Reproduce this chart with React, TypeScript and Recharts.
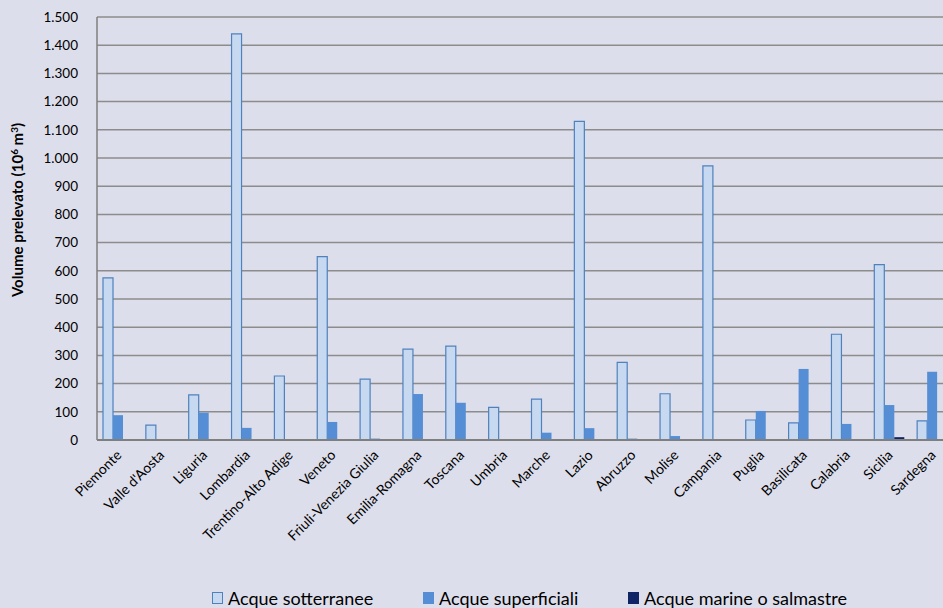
import React from 'react';
import { BarChart, Bar, XAxis, YAxis, CartesianGrid } from 'recharts';

const regions = [
  'Piemonte', "Valle d'Aosta", 'Liguria', 'Lombardia', 'Trentino-Alto Adige',
  'Veneto', 'Friuli-Venezia Giulia', 'Emilia-Romagna', 'Toscana', 'Umbria',
  'Marche', 'Lazio', 'Abruzzo', 'Molise', 'Campania',
  'Puglia', 'Basilicata', 'Calabria', 'Sicilia', 'Sardegna',
];
const sotterranee = [575, 53, 160, 1440, 227, 650, 216, 322, 333, 116, 145, 1130, 275, 164, 972, 71, 61, 375, 622, 68];
const superficiali = [88, 0, 97, 43, 2, 64, 5, 163, 132, 0, 26, 42, 5, 14, 2, 103, 252, 57, 124, 242];
const marine = [0, 0, 0, 0, 0, 0, 0, 0, 1, 0, 0, 0, 0, 0, 0, 0, 0, 0, 10, 0];
const yTicks = [0, 100, 200, 300, 400, 500, 600, 700, 800, 900, 1000, 1100, 1200, 1300, 1400, 1500];

const data = regions.map((name, i) => ({
  name,
  sott: sotterranee[i],
  sup: superficiali[i],
  mar: marine[i],
}));

const FONT = 'Lato, "Open Sans", sans-serif';
const C_SOTT = '#C6D9F1';
const C_SOTT_LINE = '#4F81BD';
const C_SUP = '#558ED5';
const C_MAR = '#0F2464';

const fmt = (v: number) => String(v).replace(/\B(?=(\d{3})+(?!\d))/g, '.');

const XTick = (props: any) => {
  const { x, y, payload } = props;
  return (
    <text
      x={x + 4}
      y={y + 8}
      transform={`rotate(-45, ${x + 4}, ${y + 8})`}
      textAnchor="end"
      fontSize={14}
      fontFamily={FONT}
      fill="#000"
    >
      {payload.value}
    </text>
  );
};

// rotated y-axis title with real superscripts
const YTitle = () => (
  <text
    transform="translate(23, 210) rotate(-90)"
    textAnchor="middle"
    fontSize={15}
    fontWeight="bold"
    fontFamily={FONT}
    fill="#000"
  >
    Volume prelevato (10
    <tspan dy={-5} fontSize={10}>6</tspan>
    <tspan dy={5}> m</tspan>
    <tspan dy={-5} fontSize={10}>3</tspan>
    <tspan dy={5}>)</tspan>
  </text>
);

const legendItems = [
  { label: 'Acque sotterranee', fill: C_SOTT, stroke: C_SOTT_LINE, left: 212 },
  { label: 'Acque superficiali', fill: C_SUP, stroke: C_SUP, left: 423 },
  { label: 'Acque marine o salmastre', fill: C_MAR, stroke: C_MAR, left: 628 },
];

export default function App() {
  return (
    <div style={{ position: 'absolute', left: 0, top: 0, width: 943, height: 608, background: '#DDDEEB', overflow: 'hidden' }}>
      <BarChart
        width={954}
        height={608}
        data={data}
        margin={{ top: 17, right: 0, left: 0, bottom: 0 }}
        barGap={0}
        barSize={10}
      >
        <CartesianGrid vertical={false} stroke="#8C8C8C" strokeWidth={1.5} />
        <XAxis
          dataKey="name"
          interval={0}
          height={168}
          tickLine={false}
          axisLine={{ stroke: '#7F7F7F', strokeWidth: 2 }}
          tick={<XTick />}
        />
        <YAxis
          width={97}
          domain={[0, 1500]}
          ticks={yTicks}
          interval={0}
          tickFormatter={fmt}
          tickLine={false}
          tickMargin={13}
          axisLine={{ stroke: '#7F7F7F', strokeWidth: 1.5 }}
          tick={{ fontSize: 13.5, fill: '#000', fontFamily: FONT }}
        />
        <Bar dataKey="sott" fill={C_SOTT} stroke={C_SOTT_LINE} strokeWidth={1.2} isAnimationActive={false} />
        <Bar dataKey="sup" fill={C_SUP} isAnimationActive={false} />
        <Bar dataKey="mar" fill={C_MAR} isAnimationActive={false} />
        <YTitle />
      </BarChart>
      {legendItems.map((it) => (
        <div
          key={it.label}
          style={{
            position: 'absolute',
            left: it.left,
            top: 588,
            display: 'flex',
            alignItems: 'center',
            fontFamily: FONT,
            fontSize: 18,
            lineHeight: '20px',
            color: '#000',
            whiteSpace: 'nowrap',
          }}
        >
          <span
            style={{
              display: 'inline-block',
              width: 9,
              height: 10,
              background: it.fill,
              border: `1px solid ${it.stroke}`,
              marginRight: 5,
            }}
          />
          {it.label}
        </div>
      ))}
    </div>
  );
}
